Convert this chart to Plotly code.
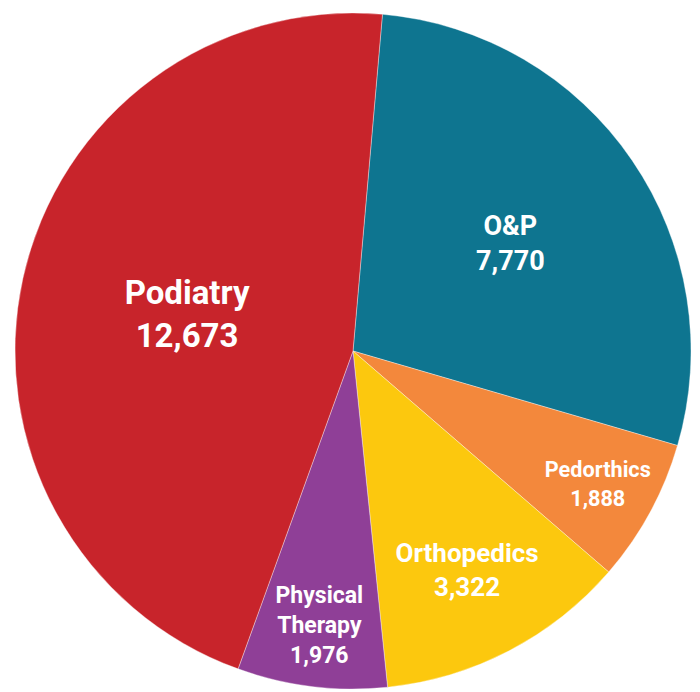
import plotly.graph_objects as go

categories = ["O&P", "Pedorthics", "Orthopedics", "Physical<br>Therapy", "Podiatry"]
values = [7770, 1888, 3322, 1976, 12673]
value_labels = ["7,770", "1,888", "3,322", "1,976", "12,673"]
colors = ["#0E7590", "#F3883C", "#FCC80E", "#8F3F97", "#C8242B"]
font_sizes = [27, 25, 26, 25, 33]

texts = [f"{c}<br>{v}" for c, v in zip(categories, value_labels)]

fig = go.Figure(go.Pie(
    labels=categories,
    values=values,
    text=texts,
    textinfo="text",
    textposition="inside",
    insidetextorientation="horizontal",
    textfont=dict(color="white", size=font_sizes, family="Roboto", weight="bold"),
    marker=dict(colors=colors, line=dict(color="rgba(255,255,255,0.6)", width=0.6)),
    sort=False,
    direction="clockwise",
    rotation=5,
    hoverinfo="label+value",
    domain=dict(x=[7/700, 683/700], y=[11/692, 687/692]),
))

fig.update_layout(
    width=700, height=692,
    margin=dict(l=0, r=0, t=0, b=0),
    showlegend=False,
    paper_bgcolor="white",
)

fig.write_html("out.html")
